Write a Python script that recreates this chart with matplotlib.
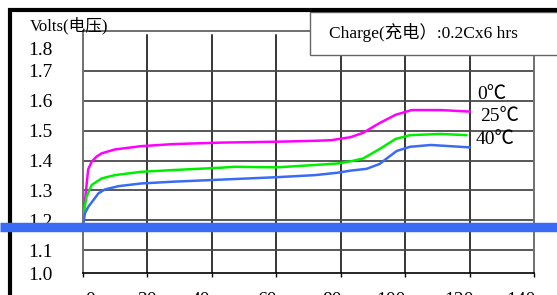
import matplotlib
matplotlib.use("Agg")
import matplotlib.pyplot as plt
from matplotlib.lines import Line2D
from matplotlib.patches import Rectangle
import matplotlib.transforms as mtransforms

# ---- data ----
x_0c = [0, 1.6, 2.7, 4.2, 5.8, 9.9, 18, 28, 43, 60, 72, 77, 83, 87, 92, 97, 102, 111, 120]
v_0c = [1.20, 1.37, 1.396, 1.413, 1.424, 1.437, 1.448, 1.455, 1.46, 1.463, 1.466, 1.468,
        1.478, 1.493, 1.525, 1.553, 1.569, 1.569, 1.564]
x_25c = [0, 1.1, 2.7, 5.8, 9.9, 18, 28, 43, 47, 60, 72, 79, 83, 87, 92, 97, 101.5, 111, 119]
v_25c = [1.21, 1.279, 1.318, 1.34, 1.351, 1.362, 1.368, 1.376, 1.379, 1.377, 1.385, 1.39,
         1.397, 1.407, 1.438, 1.472, 1.485, 1.489, 1.485]
x_40c = [0, 0.6, 1.65, 3.2, 4.8, 6.8, 11, 18, 28, 43, 60, 72, 79, 83, 88, 92, 94.3, 97.4,
         101.5, 108, 120]
v_40c = [1.18, 1.223, 1.245, 1.267, 1.29, 1.303, 1.314, 1.323, 1.329, 1.336, 1.344, 1.351,
         1.359, 1.366, 1.372, 1.388, 1.407, 1.432, 1.446, 1.452, 1.444]

series_labels = ["0℃", "25℃", "40℃"]
series_colors = ["#ff00ff", "#00ee00", "#3a6bf4"]
label_pos = [(122.3, 1.62), (123.3, 1.546), (122.0, 1.469)]

x_ticks = [0, 20, 40, 60, 80, 100, 120, 140]
y_tick_pos = [1.023, 1.1, 1.2, 1.3, 1.4, 1.5, 1.6, 1.7, 1.777]
y_tick_labels = ["1.0", "1.1", "1.2", "1.3", "1.4", "1.5", "1.6", "1.7", "1.8"]
grid_volts = [1.1, 1.2, 1.3, 1.4, 1.5, 1.6, 1.7]

ylabel_text = "Volts(电压)"
box_text = "Charge(充电）:0.2Cx6 hrs"

# per-label horizontal nudges (px) of the x tick labels, as in the scan
x_label_nudge = [7, 0, -11, -9, -9, -14, -11, -13]

FONT = ["Liberation Serif", "Noto Sans CJK SC", "DejaVu Sans"]
plt.rcParams["font.family"] = FONT

W, H = 557, 295
fig = plt.figure(figsize=(W / 100, H / 100), dpi=100)
fig.patch.set_facecolor("white")

ax = fig.add_axes([83 / W, 1 - 273 / H, (534 - 83) / W, (273 - 31) / H])
ax.set_xlim(0, 140)
ax.set_ylim(1.023, 1.834)

# grid
for xv in x_ticks[1:-1]:
    ax.axvline(xv, ymin=0, ymax=1 - 4 / 242, color="black", lw=1.1, zorder=1)
for yv in grid_volts:
    ax.axhline(yv, color="#4a4a4a", lw=1.3, zorder=1)

for xs, vs, c in zip([x_0c, x_25c, x_40c], [v_0c, v_25c, v_40c], series_colors):
    ax.plot(xs, vs, color=c, lw=1.8, zorder=3)

for lab, (lx, ly) in zip(series_labels, label_pos):
    ax.text(lx, ly, lab, fontsize=14, ha="left", va="center", color="black", zorder=4)

ax.set_xticks(x_ticks)
ax.set_xticklabels([str(v) for v in x_ticks])
ax.set_yticks(y_tick_pos)
ax.set_yticklabels(y_tick_labels)
ax.tick_params(axis="y", length=0, pad=22, labelsize=14)
ax.tick_params(axis="x", length=3, width=1, direction="out", pad=11, labelsize=14)
for lab, dx in zip(ax.get_xticklabels(), x_label_nudge):
    off = mtransforms.ScaledTranslation(dx / 100, 0, fig.dpi_scale_trans)
    lab.set_transform(lab.get_transform() + off)

for side in ["left", "top", "right"]:
    ax.spines[side].set_color("#707070")
    ax.spines[side].set_linewidth(1.4)
ax.spines["bottom"].set_color("black")
ax.spines["bottom"].set_linewidth(1.2)

# y label
fig.text(30 / W, 1 - 26 / H, ylabel_text, fontsize=12, ha="left", va="center")

# charge box
fig.add_artist(Rectangle((310 / W, 1 - 55 / H), (W - 310 + 5) / W, (55 - 12) / H,
                         transform=fig.transFigure, facecolor="white",
                         edgecolor="#666666", lw=1.0, zorder=5))
fig.text(329 / W, 1 - 33 / H, box_text, fontsize=12.5, ha="left", va="center", zorder=6)

# frame lines
fig.add_artist(Line2D([9.5 / W, 9.5 / W], [0, 1 - 8 / H], transform=fig.transFigure,
                      color="black", lw=3, zorder=7, solid_capstyle="butt"))
fig.add_artist(Line2D([8 / W, 1], [1 - 9.5 / H, 1 - 9.5 / H], transform=fig.transFigure,
                      color="black", lw=3, zorder=7, solid_capstyle="butt"))

# thick blue band
fig.add_artist(Line2D([0, 1], [1 - 226.5 / H, 1 - 226.5 / H], transform=fig.transFigure,
                      color="#3a6bf4", lw=6.8, zorder=8, solid_capstyle="butt"))

fig.savefig("out.png", dpi=100)
